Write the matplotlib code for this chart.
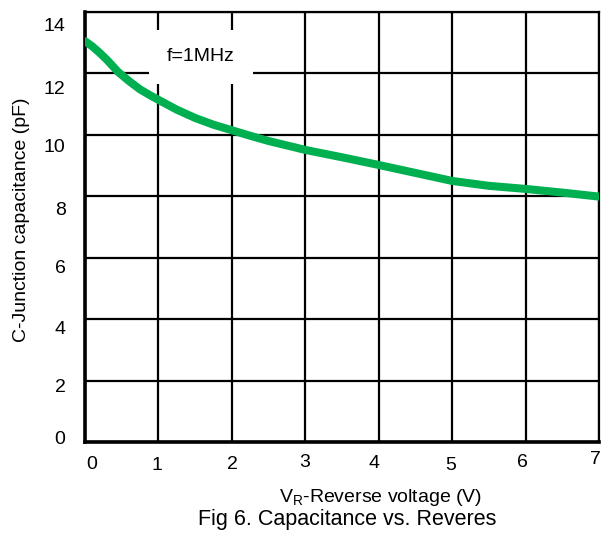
import matplotlib
matplotlib.use('Agg')
import matplotlib.pyplot as plt
from matplotlib.transforms import ScaledTranslation

plt.rcParams['font.family'] = ['Liberation Sans', 'DejaVu Sans']
plt.rcParams['mathtext.fontset'] = 'custom'
plt.rcParams['mathtext.rm'] = 'Liberation Sans'

# curve: reverse voltage (V) vs junction capacitance (pF)
voltage = [0, 0.1, 0.2, 0.3, 0.45, 0.6, 0.75, 0.9, 1, 1.25, 1.5, 1.75, 2,
           2.25, 2.5, 3, 3.5, 4, 4.5, 5, 5.5, 6, 6.5, 7]
cap = [13.05, 12.88, 12.67, 12.44, 12.05, 11.75, 11.48, 11.27, 11.14, 10.82,
       10.55, 10.33, 10.15, 9.97, 9.8, 9.51, 9.27, 9.02, 8.76, 8.5, 8.34,
       8.24, 8.12, 7.99]

x_ticks = [0, 1, 2, 3, 4, 5, 6, 7]
x_labels = ['0', '1', '2', '3', '4', '5', '6', '7']
y_ticks = [0, 2, 4, 6, 8, 10, 12, 14]
y_labels = ['0', '2', '4', '6', '8', '10', '12', '14']

# small hand-placed shifts of the tick labels (pixels, dx, dy down)
x_shift = [(7, 0), (-1, 1), (1, 0), (-1, -2), (-5, -1), (-1, 1), (-3, -2), (-4, -5)]
y_shift = [(0, -5), (0, 5), (0, 8), (0, 9), (0, 12), (0, 11), (0, 14), (0, 12)]

W, H = 613, 543
fig = plt.figure(figsize=(W / 100, H / 100), dpi=100)
ax = fig.add_axes([85 / W, 1 - 442 / H, 514 / W, 430 / H])

ax.plot(voltage, cap, color='#00B050', lw=5.8, solid_capstyle='round',
        solid_joinstyle='round', zorder=4)

ax.set_xlim(0, 7)
ax.set_ylim(0, 14)
ax.set_xticks(x_ticks, x_labels)
ax.set_yticks(y_ticks, y_labels)
ax.tick_params(length=0, labelsize=14, colors='black')
ax.tick_params(axis='x', pad=10)
ax.tick_params(axis='y', pad=14)

ax.set_axisbelow(True)
ax.grid(True, color='black', lw=1.6)
for side in ['top', 'right']:
    ax.spines[side].set_linewidth(1.6)
for side in ['left', 'bottom']:
    ax.spines[side].set_linewidth(2.6)

for lab, (dx, dy) in zip(ax.get_xticklabels(), x_shift):
    lab.set_transform(lab.get_transform() + ScaledTranslation(dx / 100, -dy / 100, fig.dpi_scale_trans))
for lab, (dx, dy) in zip(ax.get_yticklabels(), y_shift):
    lab.set_transform(lab.get_transform() + ScaledTranslation(dx / 100, -dy / 100, fig.dpi_scale_trans))

ax.text(1.58, 12.54, 'f=1MHz', fontsize=14, ha='center', va='center', zorder=3,
        bbox=dict(boxstyle='square,pad=0.95', fc='white', ec='none'))

fig.text(22 / W, 1 - 220 / H, 'C-Junction capacitance (pF)', rotation=90,
         ha='center', va='center', fontsize=14)
fig.text(381 / W, 1 - 497 / H, r'$\mathrm{V_R}$-Reverse voltage (V)',
         ha='center', va='center', fontsize=14)
fig.text(347 / W, 1 - 520 / H, 'Fig 6. Capacitance vs. Reveres',
         ha='center', va='center', fontsize=15.5)

fig.savefig('out.png', dpi=100)
